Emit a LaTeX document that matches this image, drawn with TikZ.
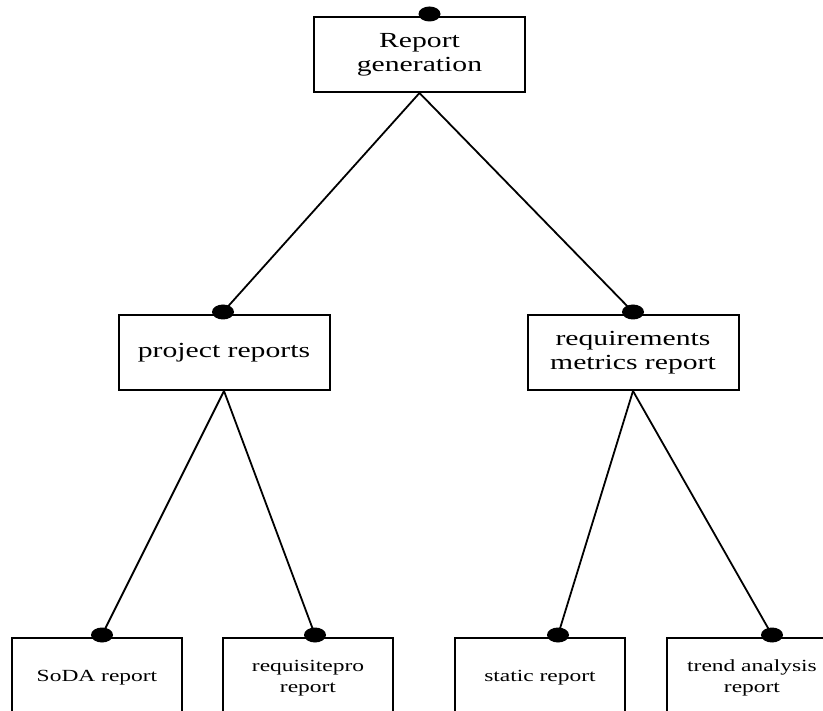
\documentclass[tikz,border=0pt]{standalone}
\usepackage{fontspec}
\setmainfont[FakeStretch=1.38]{Liberation Serif}
\usepackage{tikz}
\usetikzlibrary{shapes.geometric}
\tikzset{
  topbox/.style={draw,line width=2pt,minimum width=211pt,minimum height=75pt,align=center,font=\fontsize{21.5}{24}\selectfont},
  leafbox/.style={draw,line width=2pt,minimum width=170pt,minimum height=80pt,anchor=north,align=center,font=\fontsize{17}{21}\selectfont},
  joint/.style={ellipse,fill=black,inner sep=0pt,minimum width=22pt,minimum height=15pt},
  link/.style={line width=1.8pt}
}
\begin{document}
\begin{tikzpicture}[x=1pt,y=-1pt]
  \useasboundingbox (0,0) rectangle (823,711);
  % upper levels
  \node[topbox] (gen) at (419.5,54.5) {Report\\generation};
  \node[topbox] (proj) at (224,352.5) {project reports};
  \node[topbox] (reqm) at (633,352.5) {requirements\\metrics report};
  % leaves, cut off by the page
  \node[leafbox] (soda) at (97,637) {SoDA report};
  \node[leafbox] (reqp) at (308,637) {requisitepro\\report};
  \node[leafbox] (stat) at (540,637) {static report};
  \node[leafbox] (trend) at (752,637) {trend analysis\\report};
  % joints on the top edges
  \foreach \nm/\dx in {gen/10,proj/-1,reqm/0,soda/5,reqp/7,stat/18,trend/20}
    \node[joint] (j\nm) at ([xshift=\dx pt,yshift=2pt]\nm.north) {};
  \foreach \a/\b in {gen/proj,gen/reqm,proj/soda,proj/reqp,reqm/stat,reqm/trend}
    \draw[link] (\a.south) -- (j\b.center);
\end{tikzpicture}
\end{document}
